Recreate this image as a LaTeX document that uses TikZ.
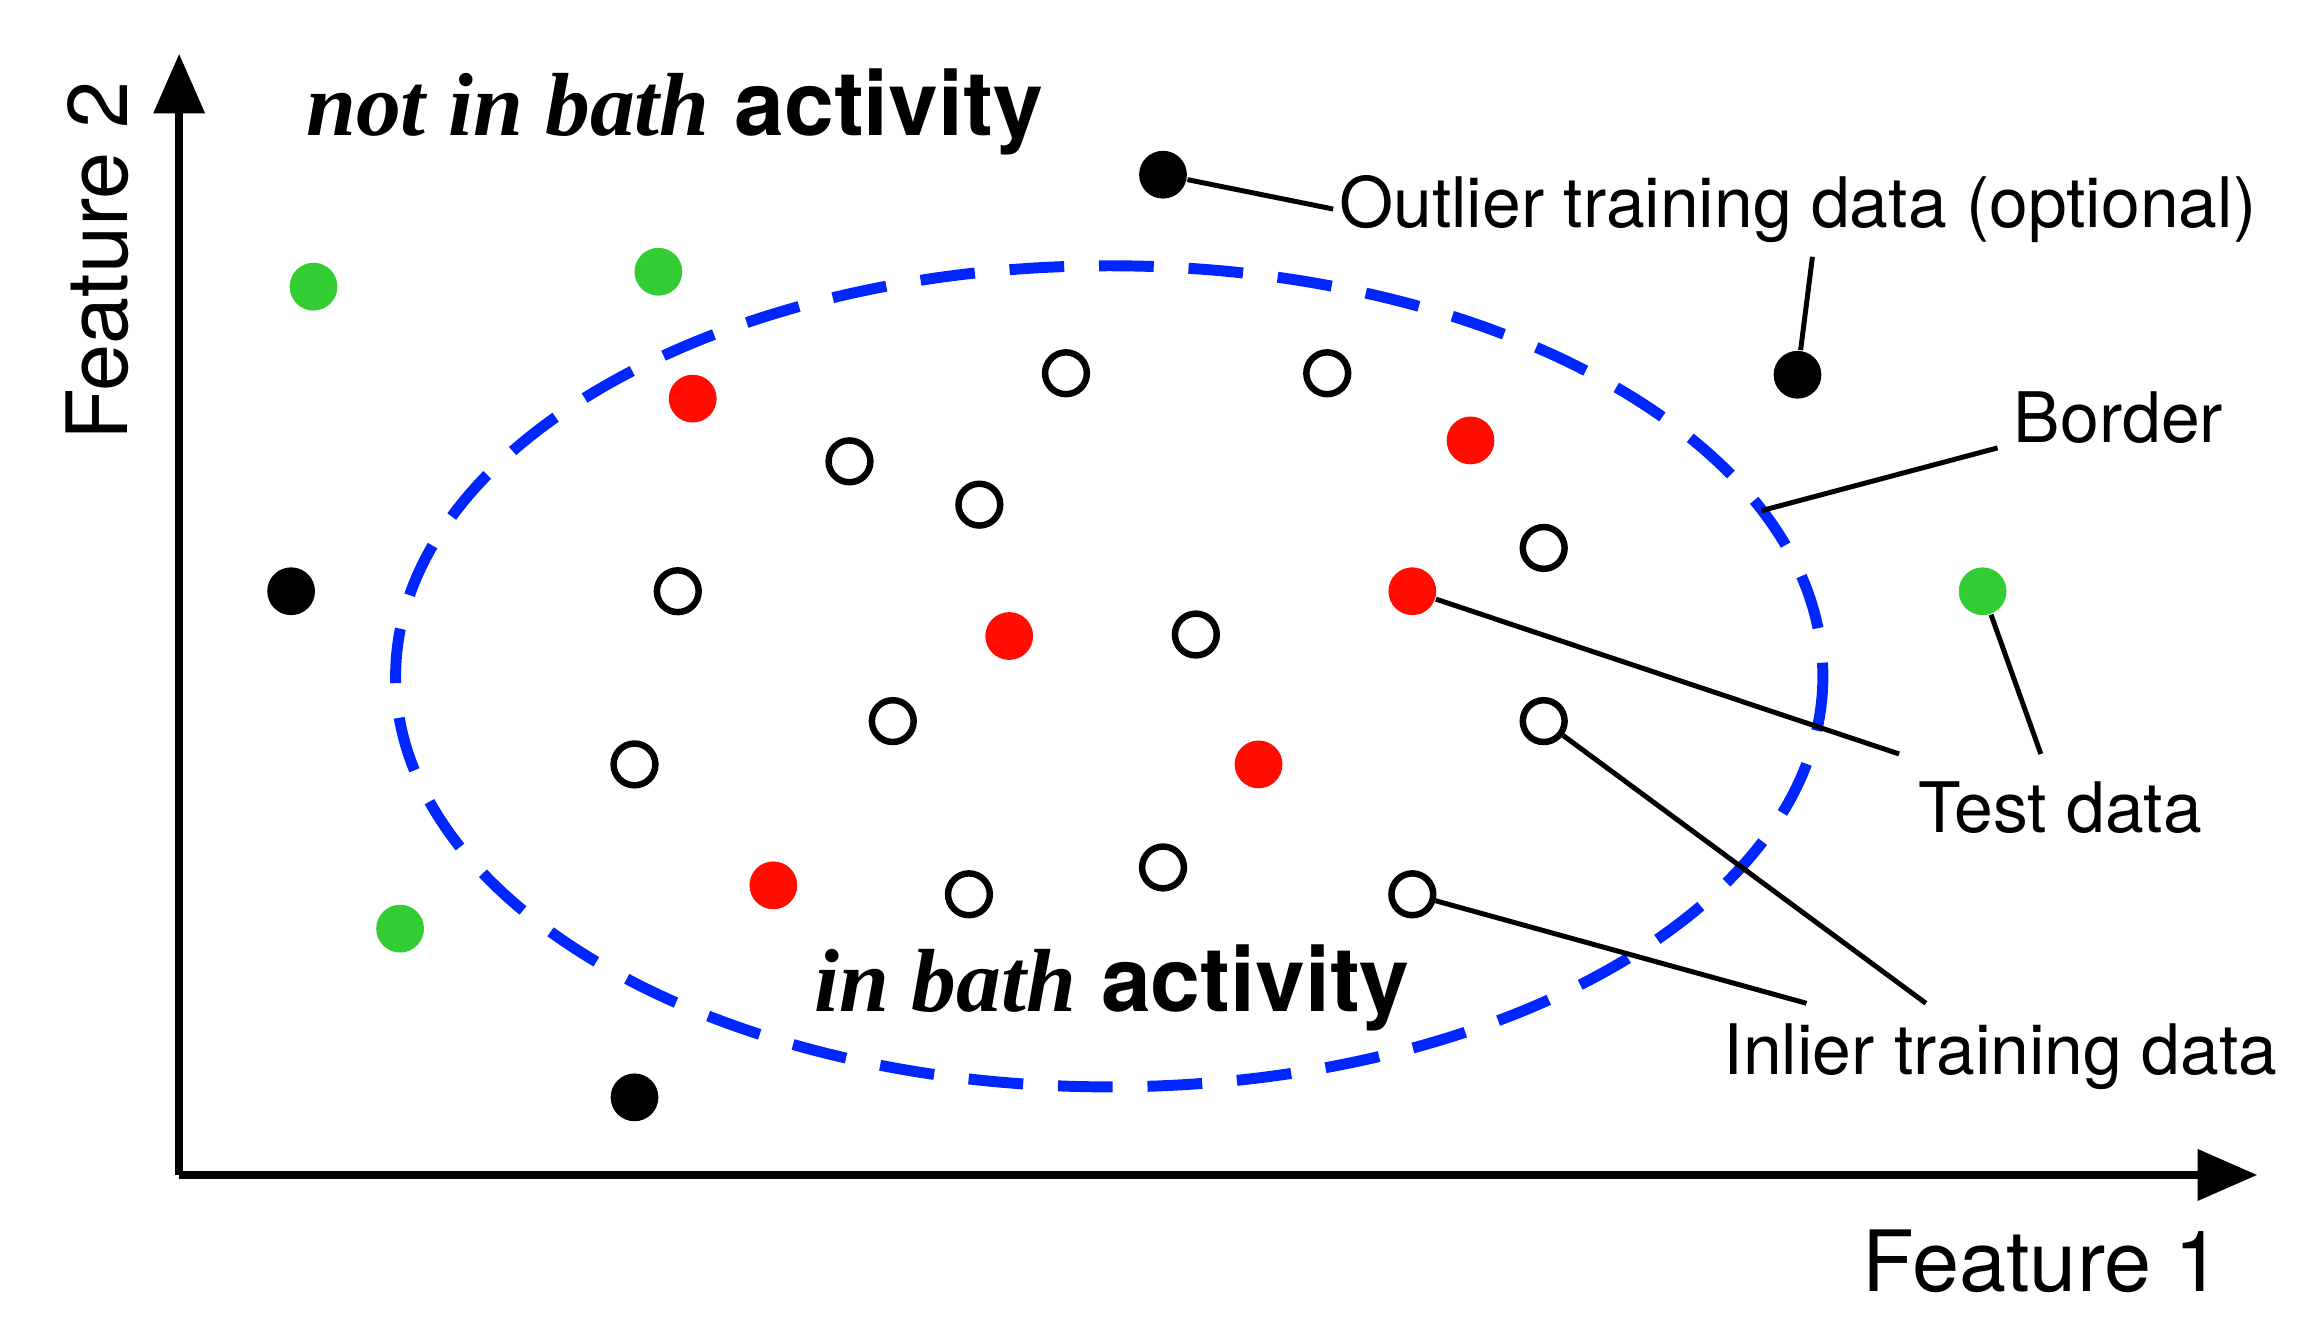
\documentclass[tikz,border=0pt]{standalone}
\usepackage{fontspec}
\usetikzlibrary{arrows.meta}
\setmainfont{TeX Gyre Heros}
\newfontfamily\titleserif{Liberation Serif}
\begin{document}
\begin{tikzpicture}[x=0.3pt,y=0.3pt,yscale=-1,
  pt/.style={circle,minimum size=9.6pt,inner sep=0pt},
  inl/.style={pt,draw=black,line width=1.3pt,fill=white,minimum size=8.4pt},
  outl/.style={pt,fill=black},
  grn/.style={pt,fill=green!75!black!80},
  tst/.style={pt,fill=red!90!orange},
  lbl/.style={font=\fontsize{14}{16}\selectfont,inner sep=1pt},
  lead/.style={line width=1pt},
  axis/.style={line width=1.6pt,-{Triangle[length=12pt,width=10pt]}}]
\useasboundingbox (0,0) rectangle (1556,899);

%axes
\draw[axis] (120,787) -- (120,36);
\draw[axis] (120,787) -- (1512,787);
\node[rotate=90,font=\fontsize{17}{19}\selectfont] (fy) at (65,175) {Feature 2};
\node[anchor=east,font=\fontsize{17}{19}\selectfont] (fx) at (1500,845) {Feature 1};

%titles
\node[font=\fontsize{18}{20}\selectfont] (tout) at (452,75) {{\titleserif\bfseries\itshape not in bath} \textbf{activity}};
\node[font=\fontsize{18}{20}\selectfont] (tin) at (745,662) {{\titleserif\bfseries\itshape in bath} \textbf{activity}};

%border
\draw[blue!85!cyan,line width=2.2pt,dash pattern=on 11pt off 7pt] (743,453) ellipse [x radius=478,y radius=275];
\coordinate (bd) at (1180,342);

%points
\foreach \n/\x/\y in {o1/779/117,o2/1204/251,o3/195/396,o4/425/735}
  \node[outl] (\n) at (\x,\y) {};
\foreach \n/\x/\y in {g1/210/192,g2/441/182,g3/1328/396,g4/268/622}
  \node[grn] (\n) at (\x,\y) {};
\foreach \n/\x/\y in {t1/464/267,t2/985/295,t3/946/396,t4/676/426,t5/843/512,t6/518/593}
  \node[tst] (\n) at (\x,\y) {};
\foreach \n/\x/\y in {i1/714/250,i2/889/250,i3/569/309,i4/656/338,i5/1034/367,i6/454/396,i7/801/425,i8/598/483,i9/425/512,i10/1034/483,i11/649/599,i12/779/581,i13/946/599}
  \node[inl] (\n) at (\x,\y) {};

%labels
\node[lbl,anchor=west] (lout) at (893,140) {Outlier training data (optional)};
\node[lbl,anchor=west] (lbd) at (1345,280) {Border};
\node[lbl] (ltst) at (1380,541) {Test data};
\node[lbl] (lin) at (1340,708) {Inlier training data};

%leaders
\draw[lead] (o1) -- (lout.west);
\draw[lead] (o2) -- (1214,172);
\draw[lead] (bd) -- (1338,300);
\draw[lead] (t3) -- (1272,505);
\draw[lead] (g3) -- (1367,505);
\draw[lead] (i13) -- (1210,672);
\draw[lead] (i10) -- (1290,672);
\end{tikzpicture}
\end{document}
